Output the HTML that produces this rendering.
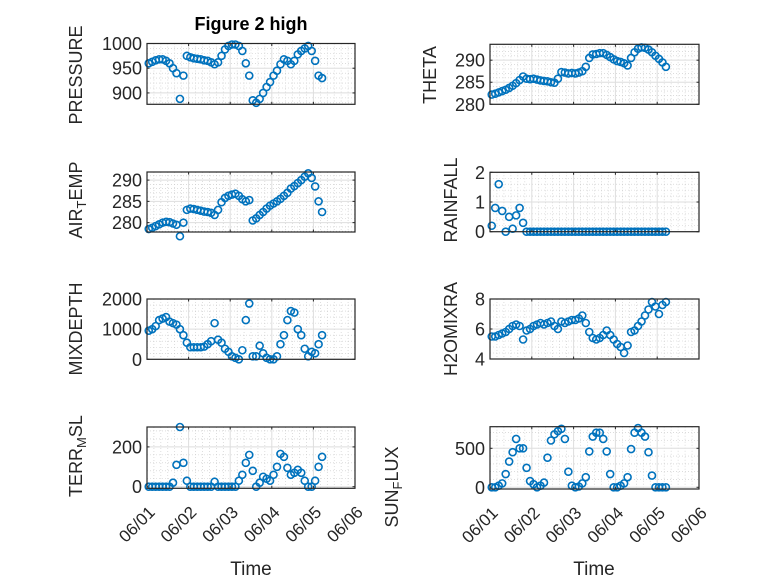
<!DOCTYPE html>
<html><head><meta charset="utf-8"><style>
body{margin:0;background:#fff}
svg{display:block;font-family:"Liberation Sans",sans-serif}
</style></head><body>
<svg id="chart" width="778" height="583" xmlns="http://www.w3.org/2000/svg">
<rect width="778" height="583" fill="#fff"/>
<text x="251" y="30" text-anchor="middle" font-size="18" font-weight="bold" fill="#000">Figure 2 high</text>
<text x="251" y="575" text-anchor="middle" font-size="19" fill="#262626">Time</text>
<text x="594" y="575" text-anchor="middle" font-size="19" fill="#262626">Time</text>
</svg>
<script>
const dayLabels = ["06/01","06/02","06/03","06/04","06/05","06/06"];
const hoursStep = 2;
const pressure = [960,963,966,968,968,965,960,950,940,888,935,975,972,970,969,968,966,965,962,958,962,975,988,995,998,998,995,985,960,935,885,880,888,900,912,922,935,945,958,968,965,958,965,978,985,990,995,985,965,935,930];
const theta = [282.2,282.4,282.7,283,283.3,283.7,284.2,284.8,285.5,286.3,285.8,285.7,285.8,285.6,285.4,285.3,285.2,285,284.9,285.8,287.3,287.2,287,287.1,287,287.2,287.5,288.5,290.5,291.3,291.4,291.6,291.6,291.2,290.7,290.2,289.8,289.6,289.3,288.8,290.5,291.8,292.6,292.9,292.8,292.4,291.8,291,290.3,289.5,288.5];
const airTemp = [278.5,278.8,279.2,279.6,280,280.2,280.1,279.8,279.5,276.8,280,283,283.3,283.2,283,282.8,282.6,282.5,282.3,281.8,283,284.8,285.8,286.3,286.6,286.8,286.3,285.5,285,285.3,280.5,281,281.8,282.5,283.3,284,284.5,285,285.6,286.3,287,288,288.6,289.3,290,290.8,291.6,290.5,288.5,285,282.5];
const rainfall = [0.2,0.8,1.6,0.7,0,0.5,0.1,0.55,0.8,0.3,0,0,0,0,0,0,0,0,0,0,0,0,0,0,0,0,0,0,0,0,0,0,0,0,0,0,0,0,0,0,0,0,0,0,0,0,0,0,0,0,0];
const mixDepth = [950,1000,1100,1300,1350,1400,1250,1200,1150,1000,800,550,400,400,400,400,420,500,600,1200,650,550,350,250,100,50,0,300,1300,1850,100,100,450,200,50,0,0,100,500,800,1300,1600,1550,1000,800,350,100,250,200,500,800];
const h2oMix = [5.5,5.5,5.6,5.7,5.8,6.0,6.2,6.3,6.2,5.3,5.9,6.0,6.2,6.3,6.4,6.3,6.4,6.5,6.2,6.0,6.5,6.4,6.5,6.6,6.6,6.7,6.9,6.4,5.8,5.4,5.3,5.4,5.6,5.9,5.6,5.3,5.0,4.8,4.4,4.9,5.8,5.9,6.2,6.5,6.9,7.3,7.8,7.5,7.0,7.6,7.8];
const terrMsl = [0,0,0,0,0,0,0,20,110,300,120,30,0,0,0,0,0,0,0,25,0,0,0,0,0,0,30,60,120,160,80,0,20,50,40,30,60,100,165,150,95,60,70,85,70,30,0,0,30,100,150];
const sunFlux = [0,0,20,50,170,330,450,620,500,500,250,80,40,0,20,60,380,600,680,720,750,620,200,20,0,10,50,130,460,650,700,700,620,460,170,0,0,20,50,130,490,700,760,700,650,450,150,0,0,0,0];
const pressureTicks = [900,950,1000];
const thetaTicks = [280,285,290];
const airTicks = [280,285,290];
const rainTicks = [0,1,2];
const mixTicks = [0,1000,2000];
const h2oTicks = [4,6,8];
const terrTicks = [0,200];
const sunTicks = [0,500];

const svg = document.getElementById('chart');
const NS = 'http://www.w3.org/2000/svg';
function mk(tag, attrs, parent){const e=document.createElementNS(NS,tag);for(const k in attrs)e.setAttribute(k,attrs[k]);(parent||svg).appendChild(e);return e;}

const panels = [
 {name:'pressure',x0:147,x1:355,y0:43.5,y1:104.3,min:877,max:1000,ticks:pressureTicks,data:pressure,label:['PRESSURE'],lx:77,ly:75,showX:false},
 {name:'theta',x0:490,x1:699,y0:44.3,y1:104.3,min:280,max:293.6,ticks:thetaTicks,data:theta,label:['THETA'],lx:431,ly:75,showX:false},
 {name:'air-temp',x0:147,x1:355,y0:172,y1:232,min:277.8,max:291.9,ticks:airTicks,data:airTemp,label:['AIR','T','EMP'],lx:77,ly:200,showX:false},
 {name:'rainfall',x0:490,x1:699,y0:172.3,y1:231.7,min:0,max:2,ticks:rainTicks,data:rainfall,label:['RAINFALL'],lx:452,ly:200,showX:false},
 {name:'mixdepth',x0:147,x1:355,y0:299,y1:359.3,min:0,max:2000,ticks:mixTicks,data:mixDepth,label:['MIXDEPTH'],lx:77,ly:329,showX:false},
 {name:'h2o-mix',x0:490,x1:699,y0:299,y1:359,min:4,max:8,ticks:h2oTicks,data:h2oMix,label:['H2OMIXRA'],lx:452,ly:329,showX:false},
 {name:'terr-msl',x0:147,x1:355,y0:427,y1:488.3,min:-8,max:300,ticks:terrTicks,data:terrMsl,label:['TERR','M','SL'],lx:77,ly:456,showX:true},
 {name:'sun-flux',x0:490,x1:699,y0:426.7,y1:489,min:-22,max:777,ticks:sunTicks,data:sunFlux,label:['SUN','F','LUX'],lx:393,ly:487,showX:true},
];

panels.forEach(p=>{
  const g = mk('g',{});
  
  
  const xs = h => p.x0 + (h/120)*(p.x1-p.x0);
  const ys = v => p.y1 - (v-p.min)/(p.max-p.min)*(p.y1-p.y0);
  mk('rect',{x:p.x0,y:p.y0,width:p.x1-p.x0,height:p.y1-p.y0,fill:'#fff'},g);
  for(let h=4;h<120;h+=4){ if(h%24===0) continue;
    mk('line',{x1:xs(h),x2:xs(h),y1:p.y0,y2:p.y1,stroke:'#c8c8c8','stroke-width':0.6,'stroke-dasharray':'1,2'},g);}
  const step = p.ticks[1]-p.ticks[0];
  for(let v=p.ticks[0]-step; v<=p.max; v+=step/5){
    if(v<p.min||v>p.max) continue;
    if(Math.abs(((v-p.ticks[0])/step)-Math.round((v-p.ticks[0])/step))<1e-6) continue;
    mk('line',{x1:p.x0,x2:p.x1,y1:ys(v),y2:ys(v),stroke:'#c8c8c8','stroke-width':0.6,'stroke-dasharray':'1,2'},g);}
  for(let d=1;d<5;d++) mk('line',{x1:xs(d*24),x2:xs(d*24),y1:p.y0,y2:p.y1,stroke:'#dedede','stroke-width':1},g);
  p.ticks.forEach(v=>{ mk('line',{x1:p.x0,x2:p.x1,y1:ys(v),y2:ys(v),stroke:'#dedede','stroke-width':1},g);
    mk('line',{x1:p.x0,x2:p.x0+2.5,y1:ys(v),y2:ys(v),stroke:'#262626','stroke-width':1},g);
    mk('line',{x1:p.x1,x2:p.x1-2.5,y1:ys(v),y2:ys(v),stroke:'#262626','stroke-width':1},g);
    const t = mk('text',{x:p.x0-5,y:ys(v)+6.5,'text-anchor':'end','font-size':18,fill:'#262626'},g);
    t.textContent = String(v);
    
    
  });
  for(let d=0;d<=5;d++){
    mk('line',{x1:xs(d*24),x2:xs(d*24),y1:p.y1,y2:p.y1-2.5,stroke:'#262626','stroke-width':1},g);
    mk('line',{x1:xs(d*24),x2:xs(d*24),y1:p.y0,y2:p.y0+2.5,stroke:'#262626','stroke-width':1},g);
    if(p.showX){
      const tx = xs(d*24)+9, ty = p.y1+25;
      const t = mk('text',{x:tx,y:ty,'text-anchor':'end','font-size':17,fill:'#262626',transform:`rotate(-45 ${tx} ${ty})`},g);
      t.textContent = dayLabels[d];
      
      
    }
  }
  p.data.forEach((v,i)=>{
    const c = mk('circle',{cx:xs(1+i*hoursStep),cy:ys(v),r:3.5,fill:'none',stroke:'#0072BD','stroke-width':1.6},g);
    
    
  });
  mk('rect',{x:p.x0,y:p.y0,width:p.x1-p.x0,height:p.y1-p.y0,fill:'none',stroke:'#262626','stroke-width':1.2},g);
  const lab = mk('text',{x:p.lx,y:p.ly,'text-anchor':'middle','dominant-baseline':'middle','font-size':18,fill:'#262626',transform:`rotate(-90 ${p.lx} ${p.ly})`},g);
  
  
  if(p.label.length===1){ lab.textContent=p.label[0]; }
  else {
    const a=mk('tspan',{},lab); a.textContent=p.label[0];
    const b=mk('tspan',{dy:6,'font-size':13},lab); b.textContent=p.label[1];
    const c=mk('tspan',{dy:-6},lab); c.textContent=p.label[2];
  }
});
</script>
</body></html>
